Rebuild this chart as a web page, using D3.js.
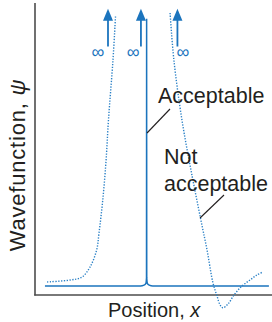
<!DOCTYPE html>
<html>
<head>
<meta charset="utf-8">
<script src="https://cdn.jsdelivr.net/npm/d3@7"></script>
<style>
  body { margin: 0; background: #fff; }
  text { font-family: "Liberation Sans", Arial, sans-serif; fill: #231f20; }
</style>
</head>
<body>
<div id="chart"></div>
<script>
var svgWidth = 272;
var svgHeight = 322;

// acceptable wavefunction (solid): position, psi
var acceptX = [0.42, 4.45, 4.6, 4.68, 4.705, 4.71, 4.715, 4.74, 4.82, 4.97, 9.87];
var acceptY = [0, 0, 0.03, 0.1, 0.3, 9.9, 0.3, 0.1, 0.03, 0, 0];

// not acceptable wavefunction (dotted), left branch and right branch
var leftX = [0.51, 1.48, 1.98, 2.32, 2.6, 2.7, 2.86, 3.0, 3.1, 3.29, 3.4];
var leftY = [0.15, 0.22, 0.33, 0.7, 1.33, 1.96, 3.19, 4.67, 6.15, 8.37, 10.04];
var rightX = [5.7, 5.86, 6.2, 6.58, 7.0, 7.26, 7.51, 7.68, 7.81, 7.93, 8.14, 8.4, 8.73, 9.07, 9.37, 9.62];
var rightY = [10.11, 8.37, 6.15, 4.3, 2.44, 1.33, 0.11, -0.37, -0.7, -0.81, -0.67, -0.33, 0, 0.22, 0.41, 0.52];

// infinity arrows
var arrowX = [3.08, 4.47, 6.01];
var infX = [2.66, 4.14, 6.24];

var svg = d3.select("#chart")
  .append("svg")
  .attr("width", svgWidth)
  .attr("height", svgHeight);

var xScale = d3.scaleLinear().domain([0, 10]).range([35, 272]);
var yScale = d3.scaleLinear().domain([-1, 10.5]).range([313, 2.5]);

var blue = "#1b74bd";

// axes (no ticks)
svg.append("line")
  .attr("x1", xScale(0)).attr("x2", xScale(0))
  .attr("y1", 3).attr("y2", 295.5)
  .attr("stroke", "#4d4d4d").attr("stroke-width", 1.6);
svg.append("line")
  .attr("x1", xScale(0) - 0.8).attr("x2", 272)
  .attr("y1", 295).attr("y2", 295)
  .attr("stroke", "#4d4d4d").attr("stroke-width", 1.6);

var line = d3.line()
  .x(d => xScale(d[0]))
  .y(d => yScale(d[1]));

// acceptable
svg.append("path")
  .datum(d3.zip(acceptX, acceptY))
  .attr("d", line.curve(d3.curveMonotoneX))
  .attr("fill", "none")
  .attr("stroke", blue)
  .attr("stroke-width", 1.5);

// not acceptable (dotted)
var dotLine = d3.line()
  .x(d => xScale(d[0]))
  .y(d => yScale(d[1]))
  .curve(d3.curveCatmullRom);

[d3.zip(leftX, leftY), d3.zip(rightX, rightY)].forEach(function(pts) {
  svg.append("path")
    .datum(pts)
    .attr("d", dotLine)
    .attr("fill", "none")
    .attr("stroke", "#2a80c6")
    .attr("stroke-width", 1.4)
    .attr("stroke-dasharray", "1.3,1.5");
});

// arrows to infinity
arrowX.forEach(function(ax) {
  var x = xScale(ax);
  svg.append("line")
    .attr("x1", x).attr("x2", x)
    .attr("y1", yScale(8.87)).attr("y2", yScale(9.9))
    .attr("stroke", blue).attr("stroke-width", 1.8);
  svg.append("path")
    .attr("d", `M${x},${yScale(10.27)} L${x - 5},${yScale(9.82)} L${x + 5},${yScale(9.82)} Z`)
    .attr("fill", blue);
});

svg.selectAll(".inf")
  .data(infX)
  .enter()
  .append("text")
  .attr("class", "inf")
  .attr("x", d => xScale(d))
  .attr("y", 58)
  .attr("text-anchor", "middle")
  .attr("font-size", "18px")
  .style("fill", blue)
  .text("\u221e");

// labels
svg.append("text")
  .attr("x", 158).attr("y", 103)
  .attr("font-size", "21.5px")
  .text("Acceptable");
svg.append("line")
  .attr("x1", 147).attr("y1", 133).attr("x2", 170).attr("y2", 109)
  .attr("stroke", "#231f20").attr("stroke-width", 1.1);

svg.append("text")
  .attr("x", 164).attr("y", 164)
  .attr("font-size", "21.5px")
  .text("Not");
svg.append("text")
  .attr("x", 164).attr("y", 191)
  .attr("font-size", "21.5px")
  .text("acceptable");
svg.append("line")
  .attr("x1", 200).attr("y1", 218).attr("x2", 224).attr("y2", 195)
  .attr("stroke", "#231f20").attr("stroke-width", 1.1);

// axis titles
var xt = svg.append("text")
  .attr("x", 108).attr("y", 317)
  .attr("font-size", "20px");
xt.append("tspan").text("Position, ");
xt.append("tspan").attr("font-style", "italic").text("x");

var yt = svg.append("text")
  .attr("transform", "translate(25,165) rotate(-90)")
  .attr("text-anchor", "middle")
  .attr("font-size", "22px")
  .attr("letter-spacing", "0.8px");
yt.append("tspan").text("Wavefunction, ");
yt.append("tspan").attr("font-style", "italic").text("\u03c8");
</script>
</body>
</html>
